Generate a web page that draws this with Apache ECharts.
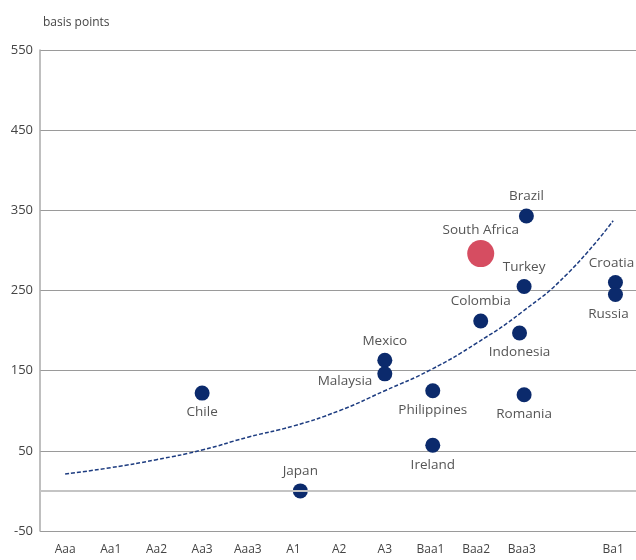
<!DOCTYPE html>
<html>
<head>
<meta charset="utf-8">
<script src="https://cdn.jsdelivr.net/npm/echarts@6/dist/echarts.min.js"></script>
<style>
  html, body { margin: 0; padding: 0; background: #fff; }
  #chart { width: 636px; height: 560px; }
</style>
</head>
<body>
<div id="chart"></div>
<script>
// rating scale on the x axis (index 11 is an empty slot)
var ratings = ['Aaa', 'Aa1', 'Aa2', 'Aa3', 'Aaa3', 'A1', 'A2', 'A3', 'Baa1', 'Baa2', 'Baa3', '', 'Ba1'];
var ratingTicks = [0, 1, 2, 3, 4, 5, 6, 7, 8, 9, 10, 11, 12];
var yTicks = [-50, 50, 150, 250, 350, 450, 550];

// countries: position on rating scale and spread in basis points
var countries = ['Chile', 'Japan', 'Mexico', 'Malaysia', 'Philippines', 'Ireland', 'Colombia',
                 'South Africa', 'Brazil', 'Turkey', 'Indonesia', 'Romania', 'Croatia', 'Russia'];
var ratingPos = [3, 5.15, 7, 7, 8.05, 8.05, 9.1, 9.1, 10.1, 10.05, 9.95, 10.05, 12.05, 12.05];
var spreads   = [122, 0, 163, 146, 125, 57, 212, 296, 343, 255, 197, 120, 260, 245];

// dashed trend line
var trendX = [0, 1, 2, 3, 4, 5, 6, 7, 8, 9, 10, 11, 12];
var trendY = [21, 29, 39, 51, 67, 81, 100, 125, 151, 184, 223, 271, 337];

var labelPos = {
    'Chile': 'bottom', 'Japan': 'top', 'Mexico': 'top', 'Malaysia': 'left',
    'Philippines': 'bottom', 'Ireland': 'bottom', 'Colombia': 'top', 'South Africa': 'top',
    'Brazil': 'top', 'Turkey': 'top', 'Indonesia': 'bottom', 'Romania': 'bottom',
    'Croatia': 'top', 'Russia': 'bottom'
};

var navy = '#0b2a6c';
var red = '#d64d61';
var font = 'Open Sans';

var pointData = countries.map(function (c, i) {
    var big = c === 'South Africa';
    var item = {
        name: c,
        value: [ratingPos[i], spreads[i]],
        symbolSize: big ? 27 : 15,
        itemStyle: { color: big ? red : navy, opacity: 1 },
        label: { position: labelPos[c], distance: big ? 3 : 5 }
    };
    if (c === 'Malaysia') item.label.offset = [0, 7];
    if (c === 'Croatia') item.label.offset = [-4, 0];
    if (c === 'Russia') item.label.offset = [-7, 0];
    return item;
});

var trendData = trendX.map(function (x, i) { return [x, trendY[i]]; });

var chart = echarts.init(document.getElementById('chart'));

chart.setOption({
    animation: false,
    title: {
        text: 'basis points',
        left: 38, top: 12,
        textStyle: { fontFamily: font, fontSize: 12, fontWeight: 'normal', color: '#444' }
    },
    grid: { left: 40, right: 0, top: 50, bottom: 29 },
    xAxis: {
        type: 'value',
        min: -0.55, max: 12.5,
        axisLine: { show: false },
        axisTick: { show: false },
        splitLine: { show: false },
        axisLabel: {
            customValues: ratingTicks,
            formatter: function (v) { return ratings[Math.round(v)] || ''; },
            margin: 13,
            fontFamily: font, fontSize: 12, color: '#444'
        }
    },
    yAxis: {
        type: 'value',
        min: -50, max: 550, interval: 100,
        axisLine: { show: true, onZero: false, lineStyle: { color: '#aaa', width: 1.5 } },
        axisTick: { show: false },
        splitLine: { lineStyle: { color: '#9a9a9a', width: 1 } },
        axisLabel: { margin: 7, fontFamily: font, fontSize: 13, color: '#444' }
    },
    series: [
        {
            type: 'line',
            data: trendData,
            smooth: true,
            symbol: 'none',
            silent: true,
            lineStyle: { color: '#1d3c80', width: 1.5, type: [4, 2] },
            markLine: {
                silent: true,
                symbol: 'none',
                label: { show: false },
                lineStyle: { color: '#c4c4c4', width: 2, type: 'solid' },
                data: [{ yAxis: 0 }]
            },
            z: 2
        },
        {
            type: 'scatter',
            data: pointData,
            label: {
                show: true,
                formatter: '{b}',
                fontFamily: font, fontSize: 13.5, color: '#555'
            },
            z: 3
        }
    ]
});
</script>
</body>
</html>
